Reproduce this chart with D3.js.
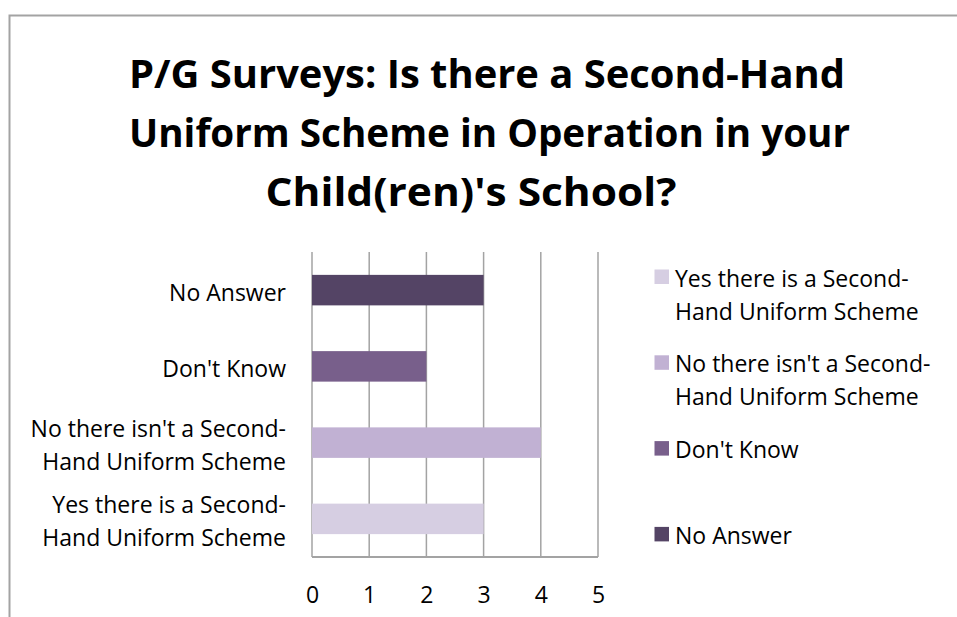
<!DOCTYPE html>
<html>
<head>
<meta charset="utf-8">
<script src="https://cdn.jsdelivr.net/npm/d3@7"></script>
<style>
  html, body { margin: 0; padding: 0; background: #fff; }
  svg { display: block; font-family: "Open Sans", "DejaVu Sans", sans-serif; }
</style>
</head>
<body>
<svg id="chart" width="957" height="617"></svg>
<script>
// Survey responses, drawn bottom-to-top in this order
const categories = [
  ["Yes there is a Second-", "Hand Uniform Scheme"],
  ["No there isn't a Second-", "Hand Uniform Scheme"],
  ["Don't Know"],
  ["No Answer"]
];
const values = [3, 4, 2, 3];
const colors = ["#d6cee2", "#c1b1d3", "#785f8b", "#544465"];
const xTicks = [0, 1, 2, 3, 4, 5];
const titleLines = [
  "P/G Surveys: Is there a Second-Hand",
  "Uniform Scheme in Operation in your",
  "Child(ren)'s School?"
];

const svg = d3.select("#chart");
const gridColor = "#a3a3a3";

// outer frame (only top and left edges fall inside the view)
svg.append("rect")
  .attr("x", 9.5).attr("y", 15.5)
  .attr("width", 1200).attr("height", 900)
  .attr("fill", "none").attr("stroke", gridColor).attr("stroke-width", 2);

// title: each wrapped line centred and fitted to its own width
const titleLayout = [
  { cx: 487, width: 716 },
  { cx: 489.5, width: 721 },
  { cx: 471, width: 411 }
];
const title = svg.append("g")
  .attr("font-weight", "bold")
  .attr("font-size", 40)
  .attr("fill", "#000");
titleLines.forEach((t, i) => {
  const L = titleLayout[i];
  title.append("text")
    .attr("x", L.cx - L.width / 2)
    .attr("y", 88 + i * 59)
    .attr("textLength", L.width)
    .attr("lengthAdjust", "spacingAndGlyphs")
    .text(t);
});

// plot area
const plot = { left: 312, right: 598, top: 252, bottom: 557 };
const x = d3.scaleLinear().domain([0, 5]).range([plot.left, plot.right]);
const idx = d3.range(categories.length);
const y = d3.scaleBand()
  .domain(idx)
  .range([plot.bottom, plot.top])
  .paddingInner(0.6).paddingOuter(0.3);

// vertical gridlines
svg.append("g").selectAll("line")
  .data(xTicks)
  .join("line")
  .attr("x1", d => x(d)).attr("x2", d => x(d))
  .attr("y1", plot.top).attr("y2", plot.bottom)
  .attr("stroke", gridColor).attr("stroke-width", 1.5);

// bars
svg.append("g").selectAll("rect")
  .data(idx)
  .join("rect")
  .attr("x", x(0))
  .attr("y", i => y(i))
  .attr("width", i => x(values[i]) - x(0))
  .attr("height", y.bandwidth())
  .attr("fill", i => colors[i]);

// bottom axis line
svg.append("line")
  .attr("x1", plot.left).attr("x2", plot.right)
  .attr("y1", plot.bottom).attr("y2", plot.bottom)
  .attr("stroke", gridColor).attr("stroke-width", 2);

// x tick labels
const xAxis = d3.axisBottom(x).tickValues(xTicks).tickSize(0).tickPadding(0).tickFormat(d3.format("d"));
const xg = svg.append("g").attr("transform", `translate(0,${plot.bottom})`).call(xAxis);
xg.select(".domain").remove();
xg.selectAll("text")
  .attr("font-family", "Open Sans, DejaVu Sans, sans-serif")
  .attr("font-size", 23).attr("fill", "#000")
  .attr("dy", null).attr("y", 45.5);

// category labels
const catG = svg.append("g").attr("font-size", 23).attr("fill", "#000").attr("text-anchor", "end");
idx.forEach(i => {
  const cy = y(i) + y.bandwidth() / 2;
  const lines = categories[i];
  const t = catG.append("text");
  lines.forEach((ln, k) => {
    const base = cy + 10.5 + (k - (lines.length - 1) / 2) * 33;
    t.append("tspan").attr("x", 286).attr("y", base).text(ln);
  });
});

// legend (top-to-bottom in series order)
const legend = svg.append("g").attr("font-size", 23).attr("fill", "#000");
idx.forEach(i => {
  const top = 269.5 + i * 85.8;
  legend.append("rect")
    .attr("x", 654.5).attr("y", top)
    .attr("width", 14.5).attr("height", 14.5)
    .attr("fill", colors[i]);
  const t = legend.append("text");
  categories[i].forEach((ln, k) => {
    t.append("tspan").attr("x", 675).attr("y", top + 17 + k * 33).text(ln);
  });
});
</script>
</body>
</html>
